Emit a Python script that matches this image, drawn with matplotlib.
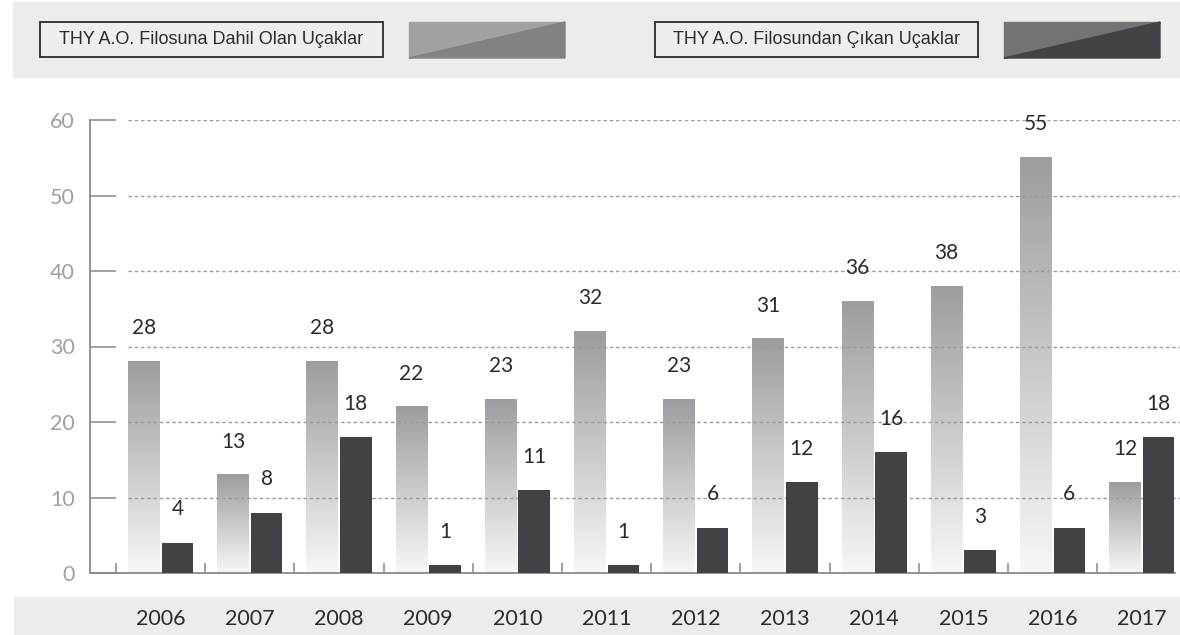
import numpy as np
import matplotlib
matplotlib.use("Agg")
import matplotlib.pyplot as plt
from matplotlib.colors import LinearSegmentedColormap
from matplotlib.patches import Rectangle, Polygon

years = ["2006", "2007", "2008", "2009", "2010", "2011",
         "2012", "2013", "2014", "2015", "2016", "2017"]
dahil = [28, 13, 28, 22, 23, 32, 23, 31, 36, 38, 55, 12]
cikan = [4, 8, 18, 1, 11, 1, 6, 12, 16, 3, 6, 18]
yticks = [0, 10, 20, 30, 40, 50, 60]
legend_labels = ["THY A.O. Filosuna Dahil Olan Uçaklar",
                 "THY A.O. Filosundan Çıkan Uçaklar"]

W, H = 1180, 635
fig = plt.figure(figsize=(W / 100, H / 100), dpi=100)

def fx(x):
    return x / W

def fy(y):
    return 1 - y / H

band = "#ecedeb"
# top and bottom bands (behind everything)
fig.patches.append(Rectangle((fx(13), fy(77)), fx(W - 13), (77 - 2) / H,
                             transform=fig.transFigure, color=band, zorder=-5))
fig.patches.append(Rectangle((fx(14), 0), fx(W - 14), (H - 597) / H,
                             transform=fig.transFigure, color=band, zorder=-5))

# legend boxes and swatches
boxes = [(40, 383, 409, 565, "#a2a2a2", "#828282"),
         (655, 978, 1004, 1160, "#737373", "#414245")]
for (bx0, bx1, sx0, sx1, c1, c2), lab in zip(boxes, legend_labels):
    fig.patches.append(Rectangle((fx(bx0), fy(57)), fx(bx1 - bx0), 35 / H,
                                 transform=fig.transFigure, facecolor="#eeefed",
                                 edgecolor="#2b2b2b", lw=1.3, zorder=1))
    fig.text(fx((bx0 + bx1) / 2), fy(39.5), lab, ha="center", va="center",
             fontsize=13, color="#2b2b2b", family="Liberation Sans")
    fig.patches.append(Polygon([(fx(sx0), fy(58)), (fx(sx0), fy(22)), (fx(sx1), fy(22))],
                               closed=True, transform=fig.transFigure, color=c1, zorder=1))
    fig.patches.append(Polygon([(fx(sx0), fy(58)), (fx(sx1), fy(22)), (fx(sx1), fy(58))],
                               closed=True, transform=fig.transFigure, color=c2, zorder=1))

ax = fig.add_axes([fx(90), fy(573), fx(W - 90), (573 - 120) / H])
ax.set_facecolor("none")

x = np.arange(len(years))
w = 0.354
off = 0.188

grad = LinearSegmentedColormap.from_list("g", ["#f7f7f7", "#9d9da1"])
gvals = np.linspace(0, 1, 256).reshape(-1, 1)
for xi, v in zip(x, dahil):
    ax.imshow(gvals, extent=(xi - off - w / 2, xi - off + w / 2, 0, v),
              origin="lower", aspect="auto", cmap=grad, zorder=1)
ax.bar(x + off, cikan, width=w, color="#414245", zorder=3)

for xi, v in zip(x, dahil):
    ax.annotate(str(v), (xi - off, v), xytext=(0, 24), textcoords="offset points",
                ha="center", va="center", fontsize=15, color="#2b2b2b", family="Lato")
for xi, v in zip(x, cikan):
    ax.annotate(str(v), (xi + off, v), xytext=(0, 24), textcoords="offset points",
                ha="center", va="center", fontsize=15, color="#2b2b2b", family="Lato")

# dotted grid lines
for t in yticks[1:]:
    ax.axhline(t, xmin=(128 - 90) / (W - 90), xmax=1, color="#9a9a9a",
               lw=1, ls=(0, (2.5, 2)), zorder=2)

ax.set_xlim(-0.5 - 26 / 89.2, -0.5 + (W - 116) / 89.2)
ax.set_ylim(0, 60)

for s in ["top", "right"]:
    ax.spines[s].set_visible(False)
ax.spines["left"].set_color("#8a8a8a")
ax.spines["bottom"].set_color("#8a8a8a")
ax.spines["left"].set_linewidth(1.3)
ax.spines["bottom"].set_linewidth(1.3)
ax.spines["bottom"].set_bounds(-0.5 - 26 / 89.2, -0.5 + (1175 - 116) / 89.2)

ax.set_yticks(yticks)
ax.set_yticklabels([str(t) for t in yticks], color="#a0a0a0", fontsize=15.5,
                   family="Lato")
ax.tick_params(axis="y", direction="in", length=19, width=1.3, color="#9a9a9a", pad=11)

ax.set_xticks(np.arange(len(years)) - 0.5)
ax.set_xticklabels([])
ax.tick_params(axis="x", which="major", direction="in", length=7, width=1.3, color="#9a9a9a")
ax.set_xticks(x, minor=True)
ax.set_xticklabels(years, minor=True, fontsize=15.5, color="#2b2b2b", family="Lato")
ax.tick_params(axis="x", which="minor", length=0, pad=26)

fig.savefig("out.png", dpi=100)
